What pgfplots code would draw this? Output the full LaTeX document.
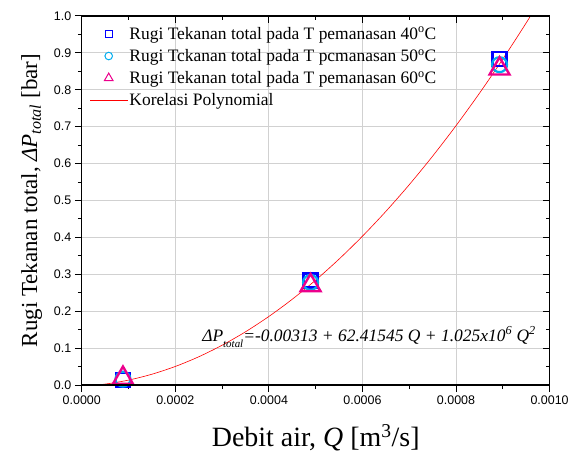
\documentclass[border=0pt]{standalone}
\usepackage{fontspec}
\setmainfont{Liberation Serif}
\setsansfont{Liberation Sans}
\usepackage{pgfplots}
\usepackage{pgfplotstable}
\pgfplotsset{compat=1.18}
\usetikzlibrary{calc}

% Measured pressure drop at three flow rates for each heating temperature
\pgfplotstableread{
Q dP
0.000088 0.014
0.000489 0.283
0.000893 0.884
}\dataforty
\pgfplotstableread{
Q dP
0.000088 0.016
0.000489 0.278
0.000893 0.868
}\datafifty
\pgfplotstableread{
Q dP
0.000088 0.019
0.000489 0.270
0.000893 0.857
}\datasixty
% Polynomial correlation, tabulated
\pgfplotstableread{
Q dP
0.00000 -0.00313
0.00005 0.002554
0.00010 0.013362
0.00015 0.029295
0.00020 0.050353
0.00025 0.076536
0.00030 0.107845
0.00035 0.144278
0.00040 0.185836
0.00045 0.232520
0.00050 0.284328
0.00055 0.341261
0.00060 0.403319
0.00065 0.470503
0.00070 0.542811
0.00075 0.620244
0.00080 0.702802
0.00085 0.790486
0.00090 0.883294
0.00095 0.981228
0.00100 1.084285
}\datafit

\begin{document}
\begin{tikzpicture}
\pgfplotsset{
  frame/.style={
    width=469pt, height=370pt, scale only axis,
    xmin=0, xmax=0.001, ymin=0, ymax=1,
    xtick={0,0.0002,0.0004,0.0006,0.0008,0.001},
    ytick={0,0.1,0.2,0.3,0.4,0.5,0.6,0.7,0.8,0.9,1.0},
    minor x tick num=1, minor y tick num=1,
    major tick length=7pt, minor tick length=4pt,
    every tick/.style={black, line width=1pt},
    axis line style={line width=1.4pt},
    scaled x ticks=false, scaled y ticks=false,
  },
}
\begin{axis}[
  frame, name=main,
  xtick pos=left, ytick pos=left, tick align=outside,
  grid=major, major grid style={black!18, line width=0.9pt},
  tick label style={font=\sffamily\fontsize{12.5}{14}\selectfont},
  /pgf/number format/assume math mode=true,
  xticklabel style={/pgf/number format/fixed, /pgf/number format/precision=4, /pgf/number format/fixed zerofill},
  yticklabel style={/pgf/number format/fixed, /pgf/number format/precision=1, /pgf/number format/fixed zerofill},
  xlabel={Debit air, \textit{Q} [m\textsuperscript{3}/s]},
  ylabel={Rugi Tekanan total, \textit{ΔP}\textsubscript{\textit{total}} [bar]},
  xlabel style={font=\fontsize{28}{32}\selectfont, yshift=-13pt},
  ylabel style={font=\fontsize{23}{27}\selectfont, yshift=5pt},
  legend cell align=left,
  legend style={at={(0,1)}, anchor=north west, xshift=6pt, yshift=-7pt,
    draw=none, fill=none, font=\fontsize{17.5}{21}\selectfont,
    row sep=4.5pt, inner sep=2pt},
  legend image code/.code={\draw[mark repeat=2,mark phase=2,#1] plot coordinates {(0cm,0cm) (0.65cm,0cm) (1.3cm,0cm)};},
]
\addplot[only marks, mark=square, mark size=7pt, draw=blue, line width=2.2pt,
  legend image post style={mark size=3.5pt, line width=1pt}] table[x=Q, y=dP] {\dataforty};
\addlegendentry{Rugi Tekanan total pada T pemanasan 40\textsuperscript{o}C}
\addplot[only marks, mark=o, mark size=7.5pt, draw=cyan, line width=2.2pt,
  legend image post style={mark size=3.8pt, line width=1pt}] table[x=Q, y=dP] {\datafifty};
\addlegendentry{Rugi Tckanan total pada T pcmanasan 50\textsuperscript{o}C}
\addplot[only marks, mark=triangle, mark size=11.5pt, draw=magenta, line width=2.4pt,
  legend image post style={mark size=5pt, line width=1pt}] table[x=Q, y=dP] {\datasixty};
\addlegendentry{Rugi Tekanan total pada T pemanasan 60\textsuperscript{o}C}
\addplot[red, line width=0.6pt, smooth] table[x=Q, y=dP] {\datafit};
\addlegendentry{Korelasi Polynomial}
\node[anchor=base west, font=\itshape\fontsize{17.5}{21}\selectfont] at (axis cs:0.000250,0.119)
  {ΔP\raisebox{-0.75ex}{\fontsize{11}{13}\selectfont total}=-0.00313 + 62.41545 Q + 1.025x10\textsuperscript{6} Q\textsuperscript{2}};
\end{axis}
\begin{axis}[
  frame,
  xtick pos=right, ytick pos=right, tick align=inside,
  xticklabels={}, yticklabels={},
]
\end{axis}
\path ($(main.south west)+(-82pt,-71pt)$) rectangle ($(main.north east)+(21pt,16pt)$);
\end{tikzpicture}
\end{document}
